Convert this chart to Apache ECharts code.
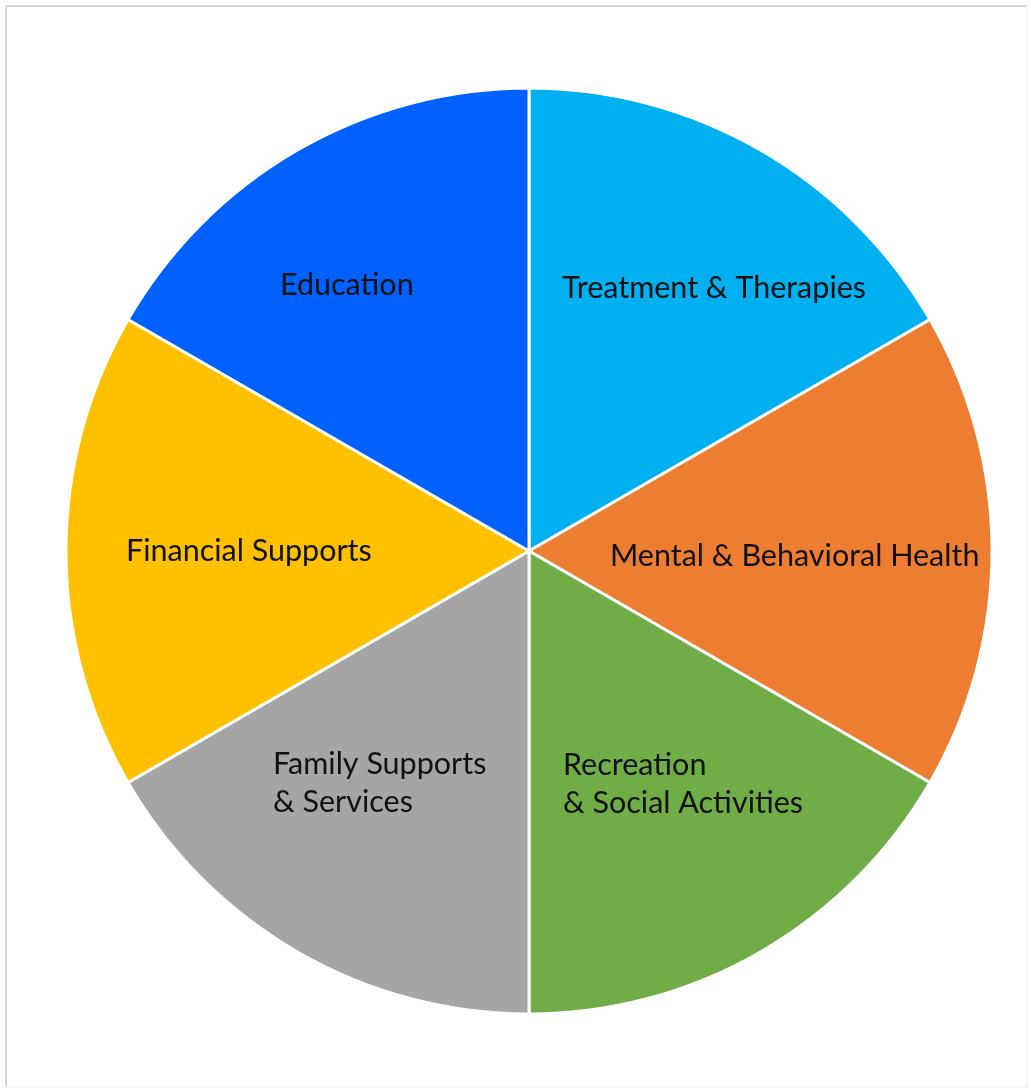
<!DOCTYPE html>
<html>
<head>
<meta charset="utf-8">
<script src="https://cdn.jsdelivr.net/npm/echarts@6/dist/echarts.min.js"></script>
<style>
html,body{margin:0;padding:0;background:#fff;}
#chart{width:1031px;height:1091px;}
</style>
</head>
<body>
<div id="chart"></div>
<script>
// Data
const categories = [
  "Treatment & Therapies",
  "Mental & Behavioral Health",
  "Recreation\n& Social Activities",
  "Family Supports\n& Services",
  "Financial Supports",
  "Education"
];
const values = [1, 1, 1, 1, 1, 1];
const colors = ["#00B0F0", "#ED7D31", "#70AD47", "#A5A5A5", "#FFC000", "#0061FE"];

// Label layout (left x, vertical middle y) – layout only
const labelLayout = [
  [562, 288],
  [610, 556],
  [563, 784],
  [273, 783],
  [126, 551],
  [280, 285]
];

const chart = echarts.init(document.getElementById('chart'), null, {renderer: 'canvas'});

const textEls = categories.map((name, i) => ({
  type: 'text',
  x: labelLayout[i][0],
  y: labelLayout[i][1],
  z: 100,
  style: {
    text: name,
    font: '30.5px Lato',
    fill: '#111111',
    textAlign: 'left',
    textVerticalAlign: 'middle',
    lineHeight: 38
  }
}));

chart.setOption({
  animation: false,
  backgroundColor: '#fff',
  graphic: [
    { type: 'line', shape: {x1: 6, y1: 6, x2: 1027, y2: 6}, style: {stroke: '#d6d6d6', lineWidth: 2} },
    { type: 'line', shape: {x1: 6, y1: 6, x2: 6, y2: 1087}, style: {stroke: '#d6d6d6', lineWidth: 2} },
    { type: 'line', shape: {x1: 1027, y1: 6, x2: 1027, y2: 1087}, style: {stroke: '#eeeeee', lineWidth: 1} },
    { type: 'line', shape: {x1: 6, y1: 1087, x2: 1027, y2: 1087}, style: {stroke: '#eeeeee', lineWidth: 1} }
  ].concat(textEls),
  series: [{
    type: 'pie',
    center: [529, 551],
    radius: [0, 463],
    startAngle: 90,
    clockwise: true,
    silent: true,
    label: { show: false },
    labelLine: { show: false },
    itemStyle: { borderColor: '#ffffff', borderWidth: 3 },
    data: categories.map((name, i) => ({
      name: name,
      value: values[i],
      itemStyle: { color: colors[i] }
    }))
  }]
});
</script>
</body>
</html>
